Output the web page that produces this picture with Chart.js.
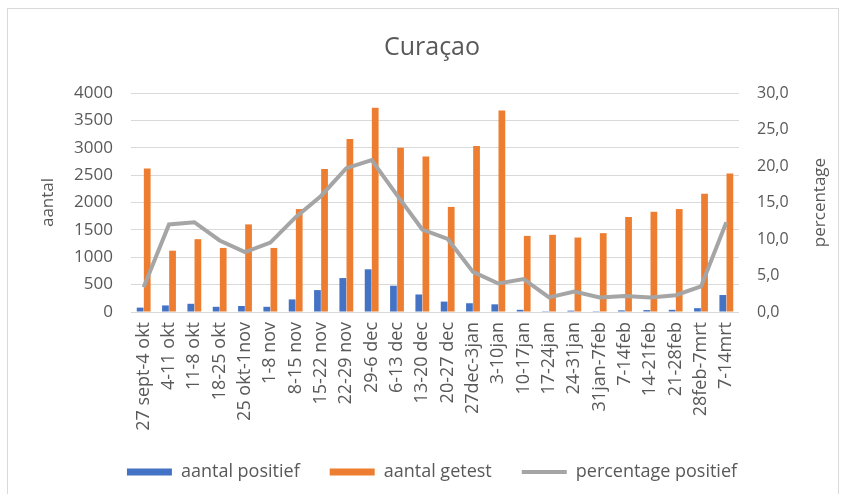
<!DOCTYPE html>
<html>
<head>
<meta charset="utf-8">
<script src="https://cdn.jsdelivr.net/npm/chart.js@4/dist/chart.umd.min.js"></script>
<style>
  html, body { margin: 0; padding: 0; background: #ffffff; }
  #frame {
    position: absolute; left: 7px; top: 8px; width: 830px; height: 492px;
    border: 1px solid #d9d9d9; background: #ffffff;
  }
  #wrap { position: absolute; left: 0; top: 0; width: 830px; height: 486px; }
</style>
</head>
<body>
<div id="frame"><div id="wrap"><canvas id="c"></canvas></div></div>
<script>
// Weekly test figures for Curaçao
const weeks = [
  "27 sept-4 okt", "4-11 okt", "11-8 okt", "18-25 okt", "25 okt-1nov", "1-8 nov",
  "8-15 nov", "15-22 nov", "22-29 nov", "29-6 dec", "6-13 dec", "13-20 dec",
  "20-27 dec", "27dec-3jan", "3-10jan", "10-17jan", "17-24jan", "24-31jan",
  "31jan-7feb", "7-14feb", "14-21feb", "21-28feb", "28feb-7mrt", "7-14mrt"
];
const positives = [80, 120, 150, 95, 110, 95, 230, 400, 620, 780, 480, 320,
                   190, 160, 140, 40, 15, 25, 15, 30, 35, 40, 70, 310];
const tested = [2620, 1120, 1330, 1170, 1600, 1170, 1880, 2610, 3160, 3730, 3000, 2840,
                1920, 3030, 3680, 1390, 1410, 1360, 1440, 1735, 1830, 1880, 2160, 2530];
const percentPositive = [3.4, 12.0, 12.3, 9.8, 8.2, 9.5, 13.0, 15.9, 19.7, 20.8, 16.0, 11.3,
                         10.0, 5.5, 3.9, 4.5, 2.0, 2.8, 2.0, 2.2, 2.0, 2.3, 3.5, 12.3];
const countTicks = [0, 500, 1000, 1500, 2000, 2500, 3000, 3500, 4000];
const percentTicks = [0, 5, 10, 15, 20, 25, 30];

const FONT = "'Open Sans', 'Noto Sans', sans-serif";
const TXT = "#595959";

// Right-hand axis title, written bottom-to-top like the left one
const rightTitle = {
  id: "rightTitle",
  afterDraw(chart) {
    const s = chart.scales.yP;
    const ctx = chart.ctx;
    ctx.save();
    ctx.translate(s.right - 6, (s.top + s.bottom) / 2);
    ctx.rotate(-Math.PI / 2);
    ctx.fillStyle = TXT;
    ctx.font = "17px " + FONT;
    ctx.textAlign = "center";
    ctx.textBaseline = "middle";
    ctx.fillText("percentage", 0, 0);
    ctx.restore();
  }
};

new Chart(document.getElementById("c"), {
  data: {
    labels: weeks,
    datasets: [
      { type: "line", label: "percentage positief", data: percentPositive, yAxisID: "yP",
        borderColor: "#a5a5a5", backgroundColor: "#a5a5a5", borderWidth: 4,
        pointRadius: 0, tension: 0, order: 0 },
      { type: "bar", label: "aantal positief", data: positives, yAxisID: "y",
        backgroundColor: "#4472c4", categoryPercentage: 0.56, barPercentage: 0.95, order: 1 },
      { type: "bar", label: "aantal getest", data: tested, yAxisID: "y",
        backgroundColor: "#ed7d31", categoryPercentage: 0.56, barPercentage: 0.95, order: 1 }
    ]
  },
  plugins: [rightTitle],
  options: {
    responsive: true,
    maintainAspectRatio: false,
    animation: false,
    layout: { padding: { left: 30, right: 12, top: 0, bottom: 4 } },
    plugins: {
      title: {
        display: true, text: "Curaçao", color: TXT,
        font: { family: FONT, size: 25, weight: "normal" },
        padding: { top: 24, bottom: 30 }
      },
      legend: {
        position: "bottom",
        labels: {
          color: TXT, font: { family: FONT, size: 18 },
          usePointStyle: true, pointStyleWidth: 45, boxHeight: 7, padding: 30,
          sort: (a, b) => [1, 2, 0].indexOf(a.datasetIndex) - [1, 2, 0].indexOf(b.datasetIndex),
          generateLabels: (chart) => chart.data.datasets.map((ds, i) => {
            const isLine = ds.type === "line";
            return {
              text: ds.label, datasetIndex: i, hidden: false, fontColor: TXT,
              fillStyle: ds.backgroundColor, strokeStyle: ds.borderColor || ds.backgroundColor,
              pointStyle: isLine ? "line" : "rect", lineWidth: isLine ? 4 : 0
            };
          })
        }
      },
      tooltip: { enabled: false }
    },
    scales: {
      x: {
        grid: { display: false, drawTicks: false },
        border: { display: false },
        afterFit: (s) => { s.height = 121; },
        ticks: { color: TXT, font: { family: FONT, size: 18 }, minRotation: 90, maxRotation: 90, autoSkip: false, padding: 10 }
      },
      y: {
        position: "left", min: 0, max: 4000,
        afterBuildTicks: (s) => { s.ticks = countTicks.map(v => ({ value: v })); },
        afterFit: (s) => { s.width = 93; },
        grid: { color: "#d9d9d9", drawTicks: false },
        border: { display: false },
        ticks: { color: TXT, font: { family: FONT, size: 17 }, padding: 18,
                 callback: (v) => String(v) },
        title: { display: true, text: "aantal", color: TXT, font: { family: FONT, size: 17 }, padding: 0 }
      },
      yP: {
        position: "right", min: 0, max: 30,
        afterBuildTicks: (s) => { s.ticks = percentTicks.map(v => ({ value: v })); },
        afterFit: (s) => { s.width = 87; },
        grid: { display: false, drawTicks: false },
        border: { display: false },
        ticks: { color: TXT, font: { family: FONT, size: 16 }, padding: 18,
                 callback: (v) => v.toFixed(1).replace(".", ",") }
      }
    }
  }
});
</script>
</body>
</html>
